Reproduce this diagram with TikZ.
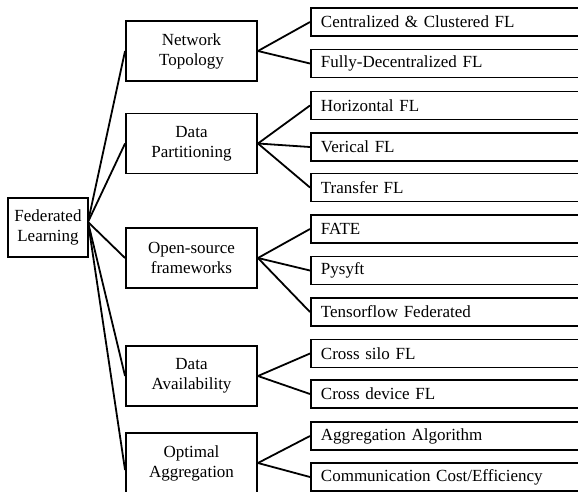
\documentclass[tikz,border=0pt]{standalone}
\usepackage{fontspec}
\setmainfont{Liberation Serif}
\begin{document}
\begin{tikzpicture}[x=1pt,y=-1pt,
  box/.style={draw=black,line width=1.9pt,rectangle,inner sep=0pt,align=center,
    font=\fontsize{17}{20}\selectfont},
  midbox/.style={box,minimum width=131pt,minimum height=60pt},
  leafbox/.style={draw=black,line width=1.9pt,rectangle,anchor=west,inner xsep=10pt,inner ysep=0pt,
    text width=270pt,align=left,minimum height=28pt,font=\fontsize{17}{20}\selectfont},
  conn/.style={line width=1.8pt,black}]
\useasboundingbox (0,0) rectangle (578,491);
\clip (0,0) rectangle (578,491);
% root
\node[box,minimum width=80pt,minimum height=59pt] (root) at (48,227.5) {Federated\\Learning};
\coordinate (rj) at (88,222);
% middle level
\node[midbox] (nt) at (191.5,51) {Network\\Topology};
\node[midbox] (dp) at (191.5,143.5) {Data\\Partitioning};
\node[midbox] (os) at (191.5,258) {Open-source\\frameworks};
\node[midbox] (da) at (191.5,376) {Data\\Availability};
\node[midbox] (oa) at (191.5,463) {Optimal\\Aggregation};
% leaves
\node[leafbox] (l1) at (310,22) {Centralized \& Clustered FL};
\node[leafbox] (l2) at (310,63.5) {Fully-Decentralized FL};
\node[leafbox] (l3) at (310,105.5) {Horizontal FL};
\node[leafbox] (l4) at (310,147) {Verical FL};
\node[leafbox] (l5) at (310,187.5) {Transfer FL};
\node[leafbox] (l6) at (310,229) {FATE};
\node[leafbox] (l7) at (310,270.5) {Pysyft};
\node[leafbox] (l8) at (310,312) {Tensorflow Federated};
\node[leafbox] (l9) at (310,353.5) {Cross silo FL};
\node[leafbox] (l10) at (310,394) {Cross device FL};
\node[leafbox] (l11) at (310,436) {Aggregation Algorithm};
\node[leafbox] (l12) at (310,477) {Communication Cost/Efficiency};
% connectors root -> middle
\foreach \m in {nt,dp,os,da} \draw[conn] (rj) -- (\m.west);
\draw[conn] (rj) -- ([yshift=-7pt]oa.west);
% middle -> leaves
\draw[conn] (nt.east) -- (l1.west);
\draw[conn] (nt.east) -- (l2.west);
\draw[conn] (dp.east) -- (l3.west);
\draw[conn] (dp.east) -- (l4.west);
\draw[conn] (dp.east) -- (l5.west);
\draw[conn] (os.east) -- (l6.west);
\draw[conn] (os.east) -- (l7.west);
\draw[conn] (os.east) -- (l8.west);
\draw[conn] (da.east) -- (l9.west);
\draw[conn] (da.east) -- (l10.west);
\draw[conn] (oa.east) -- (l11.west);
\draw[conn] (oa.east) -- (l12.west);
\end{tikzpicture}
\end{document}
